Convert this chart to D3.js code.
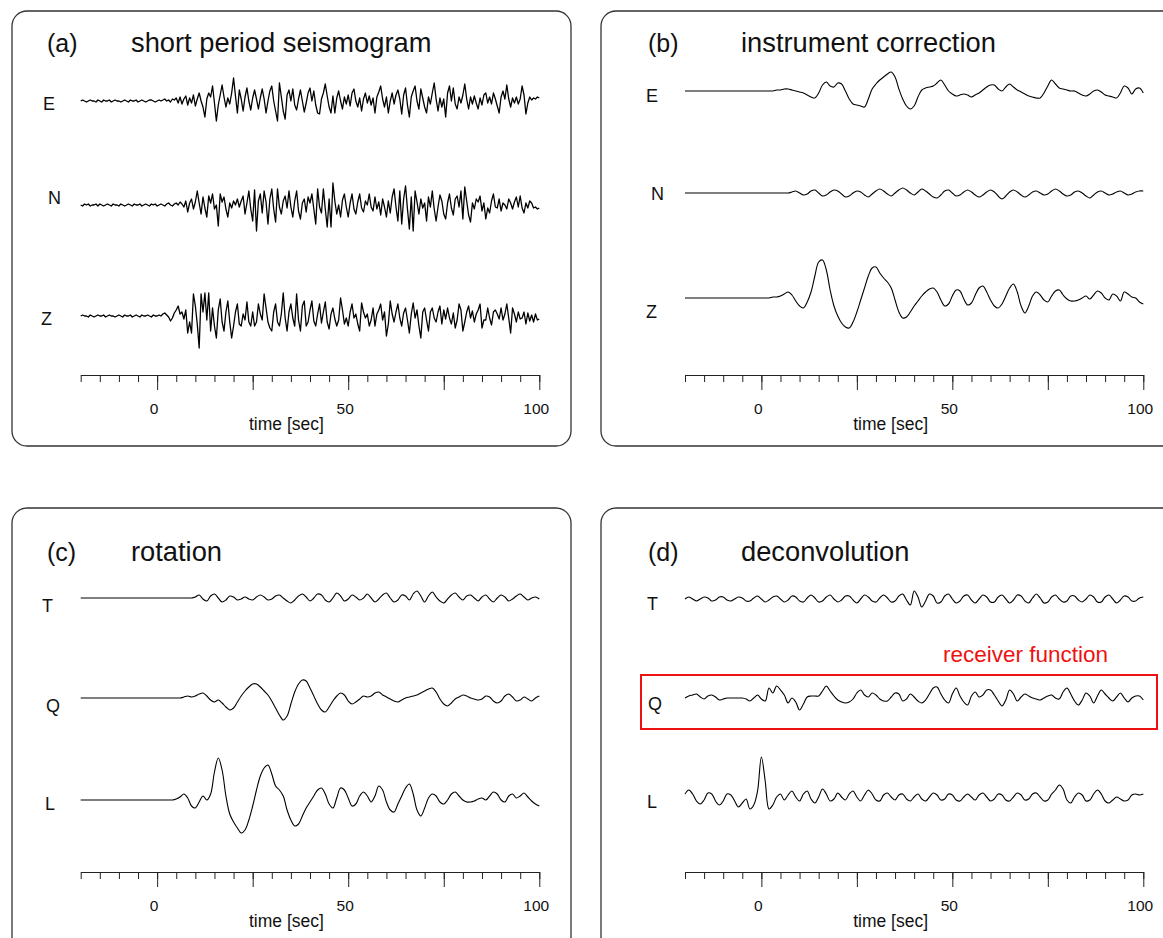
<!DOCTYPE html>
<html>
<head>
<meta charset="utf-8">
<script src="https://cdn.jsdelivr.net/npm/d3@7"></script>
<style>
  body { margin: 0; background: #fff; }
  svg text { font-family: 'Liberation Sans', Arial, sans-serif; fill: #111; }
</style>
</head>
<body>
<svg width="1163" height="938"></svg>
<script>
// time axis
const timeDomain = [-20, 100]
const minorTicks = [-20, -15, -10, -5, 0, 5, 10, 15, 20, 25, 30, 35, 40, 45, 50, 55, 60, 65, 70, 75, 80, 85, 90, 95, 100]
const majorTicks = [0, 25, 50, 75, 100]
const tickLabels = [0, 50, 100]
const axisTitle = 'time [sec]'

const panelTags = ['(a)', '(b)', '(c)', '(d)']
const panelTitles = ['short period seismogram', 'instrument correction', 'rotation', 'deconvolution']
const componentNames = [['E', 'N', 'Z'], ['E', 'N', 'Z'], ['T', 'Q', 'L'], ['T', 'Q', 'L']]
const highlightLabel = 'receiver function'

// (a) short period, sampled every 0.5 s from -20 to 100
const shortE = [
  0,1,0,-1,0,1,0,0,-1,1, 0,-1,1,0,0,1,-1,0,1,0, 0,-1,0,1,0,-1,1,0,0,1, -1,0,1,0,-1,0,1,1,0,-1,
  0,1,0,1,2,0,1,-1,2,1, 3,-2,4,-3,2,5,-4,3,-2,6, -5,2,8,0,-6,-16,2,8,4,15, -2,-20,-4,6,16,4,-6,3,-3,8,
  23,5,-12,11,2,-10,4,13,0,-9, 3,11,2,-8,3,12,2,-12,0,10, 15,0,-10,-20,18,4,-10,-18,6,11, 0,12,-4,-9,2,11,0,-11,-2,8,
  13,0,10,-4,-12,-13,2,8,17,5, -6,-12,5,-12,3,10,0,-8,4,-3, 6,-5,8,12,0,-6,3,-10,2,8, -2,5,-4,3,-12,4,9,15,2,-6,
  4,-12,0,8,-3,6,11,2,-13,6, 13,-4,-16,4,10,15,0,-8,12,3, -6,-12,4,-3,8,18,2,-10,3,-6, 2,-16,8,15,0,13,-3,-8,4,-2,
  6,17,2,-8,4,-3,5,-2,-8,3, -4,6,8,-2,4,-3,8,2,-5,-12, 4,10,2,16,2,-6,3,-2,4,-3, 2,15,6,-13,-2,4,1,3,2,4, 3
]
const shortN = [
  0,-1,1,0,1,-1,0,0,1,-1, 1,0,-1,0,1,0,-1,1,0,0, -1,1,0,-1,0,1,0,-1,1,0, 0,1,-1,0,1,0,-1,1,0,1,
  -1,0,1,0,-1,1,2,0,-1,1, 2,0,3,1,-2,4,-7,2,6,-4, 3,14,2,-9,8,-3,-12,9,2,11, -4,0,-21,11,3,8,-4,-12,2,-3,
  4,0,6,-2,4,9,-9,2,14,-4, -16,15,-26,4,11,-8,14,3,-19,6, 16,-4,-17,16,-2,-9,4,9,-3,14, -2,-12,4,14,-6,-14,2,6,-7,8,
  2,11,-4,-19,16,-2,-8,16,-4,-22, 6,-22,22,4,-9,0,-12,5,11,-2, -12,2,11,-4,-9,3,11,-3,-7,4, 0,11,-2,-6,8,-4,3,-10,6,-2,
  -12,4,-8,8,16,-2,-16,14,-19,6, 19,-4,-24,8,-26,14,3,-9,6,-3, 2,-16,8,-2,14,-4,-16,-2,10,4, -9,-14,2,11,-3,-10,6,9,-2,14,
  -14,18,4,-10,-17,2,-4,6,3,9, -6,2,-14,-3,-8,4,11,-2,-3,6, -6,2,0,-4,6,2,-4,3,8,-2, 9,-3,-8,2,-3,4,2,-3,-2,-4, -3
]
const shortZ = [
  0,1,0,0,-1,1,0,-1,0,1, 0,0,1,-1,0,1,0,0,-1,0, 1,0,-1,1,0,0,1,-1,0,1, 0,-1,1,0,0,1,0,-1,1,0,
  0,1,0,2,3,1,-1,-5,-2,3, 6,10,2,4,-3,6,-17,-6,-17,22, 10,-8,-32,22,4,23,-4,23,-15,8, -10,-22,6,17,-6,-15,4,15,-6,-22,
  -10,4,12,-8,-10,2,-4,14,-6,-10, 4,-10,-6,12,2,-4,22,8,-6,-12, -15,4,12,-6,-10,2,23,-2,-15,4, 12,-2,-10,22,-4,-15,10,15,-10,-6,
  6,15,-5,-10,2,12,-7,4,14,-6, -13,2,8,-3,-10,-4,18,6,-8,-2, -10,4,12,-2,2,-8,-15,13,4,-2, 2,-10,-4,8,-10,2,6,12,-4,4,
  -20,-8,15,2,-6,4,12,-2,-10,3, 8,-4,-17,2,13,-2,6,-10,-22,4, 8,-4,-15,4,8,-2,-6,4,10,-8, 6,-3,8,-2,-8,3,-12,-4,12,6,
  -15,-6,4,10,-2,5,-6,2,6,12, -12,-4,-4,8,-2,-9,4,6,2,-3, 8,-4,2,12,-2,-17,8,2,-6,4, -3,-2,4,-8,3,-5,1,-6,2,-4, -3
]

// (b) instrument corrected, sampled every 1 s from -20 to 100
const instE = [
  0,0,0,0,0, 0,0,0,0,0, 0,0,0,0,0, 0,0,0,0,0, 0,0,0,0,1,
  1,2,2,1,0, -1,-2,-4,-6,-7, -2,6,9,5,4, 8,7,0,-8,-13, -14,-15,-16,-8,2, 7,11,14,17,19,
  14,2,-8,-15,-18, -15,-6,1,3,4, 5,8,11,6,0, -3,-5,-4,-3,-4, -6,-4,-2,1,4, 6,6,2,0,4,
  7,4,1,-1,-3, -5,-6,-7,-7,-2, 5,11,7,3,2, 1,0,0,-2,-4, -5,-3,0,1,-1, -4,-5,-6,-7,-2, 5,3,-3,2,3, -2
]
const instN = [
  0,0,0,0,0, 0,0,0,0,0, 0,0,0,0,0, 0,0,0,0,0, 0,0,0,0,0, 0,0,0,
  1,2,0,-2,-1, 2,3,0,-3,-2, 1,3,2,-1,-4, -3,0,2,1,-2, -4,-1,2,4,2, -1,-3,0,3,5,
  3,0,-2,1,4, 2,-1,-4,-5,-2, 2,3,0,-3,-2, 1,3,1,-2,-4, -2,1,3,1,-3, -6,-3,1,3,1,
  -2,-4,-2,1,2, 0,-2,-1,2,4, 2,-1,-3,-2,1, 2,0,-3,-5,-2, 1,2,0,-2,-1, 1,2,0,-2,-1, 1,2,2
]
const instZ = [
  0,0,0,0,0, 0,0,0,0,0, 0,0,0,0,0, 0,0,0,0,0, 0,0,
  0,1,1,2,4, 6,3,-3,-8,-10, -4,6,22,36,38, 28,8,-8,-18,-25, -29,-30,-24,-14,-2, 10,22,30,31,25,
  20,16,10,-2,-14, -20,-19,-14,-8,-3, 2,6,9,10,6, -2,-8,-6,2,8, 7,-1,-7,-5,3, 10,12,6,-2,-8,
  -10,-6,2,10,14, 6,-8,-15,-8,2, 6,3,-2,-4,2, 7,8,3,-1,-3, -3,-2,0,2,-1, 3,7,5,0,-2, 4,2,-3,6,4, 1,0,-4,-6
]

// (c) rotated
const rotT = [
  0,0,0,0,0, 0,0,0,0,0, 0,0,0,0,0, 0,0,0,0,0, 0,0,0,0,0, 0,0,0,0,0,
  1,3,-1,-3,2, 4,0,-4,-2,2, 1,-2,-1,1,-1, -2,1,3,1,-2, -1,2,3,0,-3, -5,-2,2,4,1,
  -3,0,4,3,-2, -4,0,5,2,-3, -1,3,1,-2,0, 4,0,-4,-1,3, 5,0,-4,-2,3, 2,-2,4,7,2,
  -4,2,6,1,-3, -5,-1,3,5,1, -2,2,3,0,-3, 1,3,-1,-4,0, 3,1,-3,-1,2, 4,1,-2,0,1, -1
]
const rotQ = [
  0,0,0,0,0, 0,0,0,0,0, 0,0,0,0,0, 0,0,0,0,0, 0,0,0,0,0, 0,0,
  1,2,1,2,4, 5,2,-2,-4,-2, -5,-9,-12,-10,-4, 2,7,11,14,14, 11,7,3,-3,-10, -17,-22,-18,-6,6,
  14,18,17,10,2, -6,-12,-14,-9,-3, 2,5,3,-3,-6, -4,-1,2,1,2, 5,6,3,1,-1, -3,-4,-2,0,1,
  2,3,5,7,9, 10,6,-1,-6,-8, -5,-1,1,3,2, 0,-1,-2,-1,2, 1,-3,-5,-3,2, 4,1,-3,-2,1, -1,-3,0,2
]
const rotL = [
  0,0,0,0,0, 0,0,0,0,0, 0,0,0,0,0, 0,0,0,0,0, 0,0,0,0,0,
  1,3,6,2,-6, -8,-2,4,0,6, 28,42,30,4,-14, -22,-28,-33,-30,-20, -6,10,24,32,35, 26,14,10,4,-10,
  -20,-26,-24,-16,-8, -2,4,10,12,6, -4,-8,2,12,10, 2,-6,-4,4,8, 4,-2,4,14,10, -2,-10,-12,-4,4,
  12,16,6,-10,-16, -8,2,6,4,-2, -4,0,6,8,4, 0,-2,-2,-1,1, 2,0,4,8,6, 0,-2,4,6,2, 4,7,3,-1,-4, -6
]

// (d) deconvolved
const deconT = [
  0,2,0,-2,0, 2,1,-2,-1,2, 2,-1,-2,0,2, 1,-2,-2,1,3,
  0,-3,-1,2,3, 0,-3,-1,3,2, -2,-3,1,4,1, -3,-2,2,4,0, -3,-1,3,3,-1, -4,0,4,2,-2,
  -3,1,4,1,-3, -2,3,5,-1,-6, 8,2,-8,-2,5, 3,-4,-3,3,5, 0,-4,-2,3,4, -1,-4,0,4,2,
  -3,-3,2,4,0, -4,-1,4,3,-2, -4,1,5,1,-4, -3,2,4,0,-3, -2,3,3,-1,-3, 0,4,2,-3,-3,
  2,4,0,-4,-1, 3,2,-2,-2,1, 2
]
const deconQ = [
  0,2,3,4,1, -1,2,3,1,-2, -1,0,0,0,0, 0,-1,-3,0,3,
  -1,-3,10,5,12, 8,3,-5,0,-4, -12,-6,1,2,2, 2,7,12,7,2, -2,-4,-5,-4,-1, 5,8,3,1,5,
  3,-1,-3,-3,1, 5,4,-3,-1,4, 1,-3,-5,-2,4, 10,11,4,-2,-5, 4,10,2,-4,-7, 2,6,1,3,8,
  8,3,-3,-8,-2, 8,4,-3,1,4, 2,0,-1,-2,0, 2,3,0,-1,6, 10,4,-3,-7,-2, 5,2,-5,2,8,
  4,0,-3,1,5, 0,-4,0,2,2, -2
]
const deconL = [
  3,7,3,-4,-7, -3,4,3,-4,-8, -4,3,2,-4,-10, -6,-2,-12,-8,6,
  40,16,-12,-8,0, 3,-3,2,6,0, -4,3,6,-2,-6, 0,8,3,-4,-2, 4,0,-3,3,6, 0,-4,2,7,3,
  -3,-4,2,4,0, -3,2,3,-2,-4, 0,3,-2,-4,0, 4,2,-3,-2,3, 2,-3,-4,0,3, 0,-3,2,4,0,
  -4,-2,3,2,-3, -4,0,4,2,-3, -2,3,4,0,-4, -3,3,7,12,8, -3,-6,0,4,2, -4,-3,3,7,3,
  -4,-6,-3,0,-2, -4,-3,2,3,2, 3
]

const panelTraces = [
  [shortE, shortN, shortZ],
  [instE, instN, instZ],
  [rotT, rotQ, rotL],
  [deconT, deconQ, deconL]
]

// layout (pixels)
const panels = [
  { box: [12, 11, 559, 435], xr: [80.7, 539.3], axisY: 375, head: 52, bases: [101, 205, 316],
    labels: [[43, 110], [48, 204], [41, 325]], tagX: 47, titleX: 131, curve: d3.curveLinear },
  { box: [601, 11, 620, 435], xr: [685, 1143.3], axisY: 375, head: 52, bases: [91, 193, 298],
    labels: [[646, 102], [651, 200], [646, 318]], tagX: 648, titleX: 741, curve: d3.curveCatmullRom },
  { box: [12, 508, 559, 460], xr: [80.7, 539.3], axisY: 872, head: 561, bases: [598, 698, 800],
    labels: [[42, 612], [46, 712], [45, 810]], tagX: 47, titleX: 131, curve: d3.curveCatmullRom },
  { box: [601, 508, 620, 460], xr: [685, 1143.3], axisY: 872, head: 561, bases: [599, 698, 797],
    labels: [[647, 610], [648, 710], [647, 808]], tagX: 648, titleX: 741, curve: d3.curveCatmullRom }
]

const svg = d3.select('svg')

panels.forEach((p, pi) => {
  const g = svg.append('g')

  g.append('rect')
    .attr('x', p.box[0]).attr('y', p.box[1])
    .attr('width', p.box[2]).attr('height', p.box[3])
    .attr('rx', 15).attr('ry', 15)
    .attr('fill', 'none').attr('stroke', '#333').attr('stroke-width', 1.3)

  g.append('text').attr('x', p.tagX).attr('y', p.head)
    .attr('font-size', 25).text(panelTags[pi])
  g.append('text').attr('x', p.titleX).attr('y', p.head)
    .attr('font-size', 27.3).text(panelTitles[pi])

  const x = d3.scaleLinear().domain(timeDomain).range(p.xr)

  panelTraces[pi].forEach((vals, ti) => {
    const base = p.bases[ti]
    const y = d3.scaleLinear().domain([-50, 50]).range([base + 50, base - 50])
    const step = (timeDomain[1] - timeDomain[0]) / (vals.length - 1)
    const line = d3.line()
      .x((d, i) => x(timeDomain[0] + i * step))
      .y(d => y(d))
      .curve(p.curve)
    g.append('path')
      .datum(vals)
      .attr('d', line)
      .attr('fill', 'none')
      .attr('stroke', '#000')
      .attr('stroke-width', pi === 0 ? 1.3 : 1.1)
      .attr('stroke-linejoin', 'round')

    g.append('text')
      .attr('x', p.labels[ti][0]).attr('y', p.labels[ti][1])
      .attr('font-size', 18)
      .text(componentNames[pi][ti])
  })

  // axis: minor ticks, major ticks, labels
  const ax = g.append('g').attr('transform', `translate(0,${p.axisY})`)
  ax.append('g').call(d3.axisBottom(x).tickValues(minorTicks).tickSize(7).tickSizeOuter(0).tickFormat(''))
  ax.append('g').call(d3.axisBottom(x).tickValues(majorTicks).tickSize(15).tickSizeOuter(0).tickFormat(''))
  ax.selectAll('path, line').attr('stroke', '#222').attr('stroke-width', 1)

  g.selectAll('.tlab')
    .data(tickLabels)
    .enter().append('text')
    .attr('x', d => x(d) - 3)
    .attr('y', p.axisY + 39)
    .attr('text-anchor', 'middle')
    .attr('font-size', 15.5)
    .text(d => d)

  g.append('text')
    .attr('x', (x(25) + x(50)) / 2 - 14)
    .attr('y', p.axisY + 55)
    .attr('text-anchor', 'middle')
    .attr('font-size', 17.5)
    .text(axisTitle)
})

// highlight box around the receiver function in (d)
svg.append('rect')
  .attr('x', 641).attr('y', 675).attr('width', 516).attr('height', 54)
  .attr('fill', 'none').attr('stroke', '#ee1111').attr('stroke-width', 2)
svg.append('text')
  .attr('x', 1025.5).attr('y', 662)
  .attr('text-anchor', 'middle')
  .attr('font-size', 22.5)
  .style('fill', '#ee1111')
  .text(highlightLabel)
</script>
</body>
</html>
